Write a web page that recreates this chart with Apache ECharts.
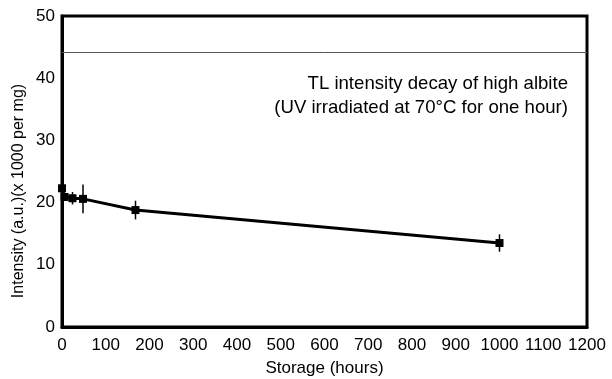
<!DOCTYPE html>
<html>
<head>
<meta charset="utf-8">
<script src="https://cdn.jsdelivr.net/npm/echarts@6/dist/echarts.min.js"></script>
<style>
  html, body { margin: 0; padding: 0; background: #fff; }
  #chart { width: 612px; height: 379px; }
</style>
</head>
<body>
<div id="chart"></div>
<script>
// storage time (hours) and TL intensity (a.u. x 1000 per mg)
const hours = [0, 6, 24, 48, 168, 1000];
const intensity = [22.3, 20.9, 20.7, 20.6, 18.8, 13.5];
const errors = [0.6, 0.4, 1.0, 2.3, 1.5, 1.4];
const refLevel = 44.2;
const noteLines = ['TL intensity decay of high albite', '(UV irradiated at 70\u00b0C for one hour)'];
const yTitle = 'Intensity (a.u.)(x 1000 per mg)';
const xTitle = 'Storage (hours)';

const font = 'Liberation Sans, Arial, sans-serif';

const points = hours.map((h, i) => [h, intensity[i]]);
const bars = hours.map((h, i) => [h, intensity[i] - errors[i], intensity[i] + errors[i]]);

const chart = echarts.init(document.getElementById('chart'));

chart.setOption({
  animation: false,
  backgroundColor: '#fff',
  grid: {
    left: 62, right: 25, top: 16, bottom: 52,
    outerBoundsMode: 'none',
    containLabel: false,
    show: true, borderColor: '#000', borderWidth: 3
  },
  xAxis: {
    type: 'value',
    min: 0, max: 1200, interval: 100,
    name: xTitle,
    nameLocation: 'middle',
    nameGap: 33,
    nameTextStyle: { fontFamily: font, fontSize: 17, color: '#000' },
    axisLine: { show: true, lineStyle: { color: '#000', width: 3 } },
    axisTick: { show: false },
    splitLine: { show: false },
    axisLabel: {
      fontFamily: font, fontSize: 17, color: '#000', margin: 10,
      hideOverlap: false,
      formatter: (v) => String(v)
    }
  },
  yAxis: {
    type: 'value',
    min: 0, max: 50, interval: 10,
    axisLine: { show: true, lineStyle: { color: '#000', width: 3 } },
    axisTick: { show: false },
    splitLine: { show: false },
    axisLabel: { fontFamily: font, fontSize: 17, color: '#000', margin: 7 }
  },
  graphic: [
    {
      type: 'text',
      x: 568, y: 84,
      style: {
        text: noteLines[0], align: 'right', verticalAlign: 'middle',
        fontFamily: font, fontSize: 18.6, fill: '#000'
      }
    },
    {
      type: 'text',
      x: 568, y: 108,
      style: {
        text: noteLines[1], align: 'right', verticalAlign: 'middle',
        fontFamily: font, fontSize: 18.6, fill: '#000'
      }
    },
    {
      type: 'text',
      x: 19, y: 191,
      rotation: Math.PI / 2,
      style: {
        text: yTitle, align: 'center', verticalAlign: 'middle',
        fontFamily: font, fontSize: 16, fill: '#000'
      }
    }
  ],
  series: [
    {
      type: 'line',
      data: points,
      symbol: 'rect',
      symbolSize: 8,
      lineStyle: { color: '#000', width: 3 },
      itemStyle: { color: '#000' },
      z: 3,
      markLine: {
        silent: true,
        symbol: 'none',
        label: { show: false },
        lineStyle: { color: '#555', width: 1, type: 'solid' },
        data: [{ yAxis: refLevel }]
      }
    },
    {
      type: 'custom',
      data: bars,
      z: 4,
      renderItem: (params, api) => {
        const lo = api.coord([api.value(0), api.value(1)]);
        const hi = api.coord([api.value(0), api.value(2)]);
        return {
          type: 'line',
          shape: { x1: lo[0], y1: lo[1], x2: hi[0], y2: hi[1] },
          style: { stroke: '#000', lineWidth: 1.5 }
        };
      }
    }
  ]
});
</script>
</body>
</html>
